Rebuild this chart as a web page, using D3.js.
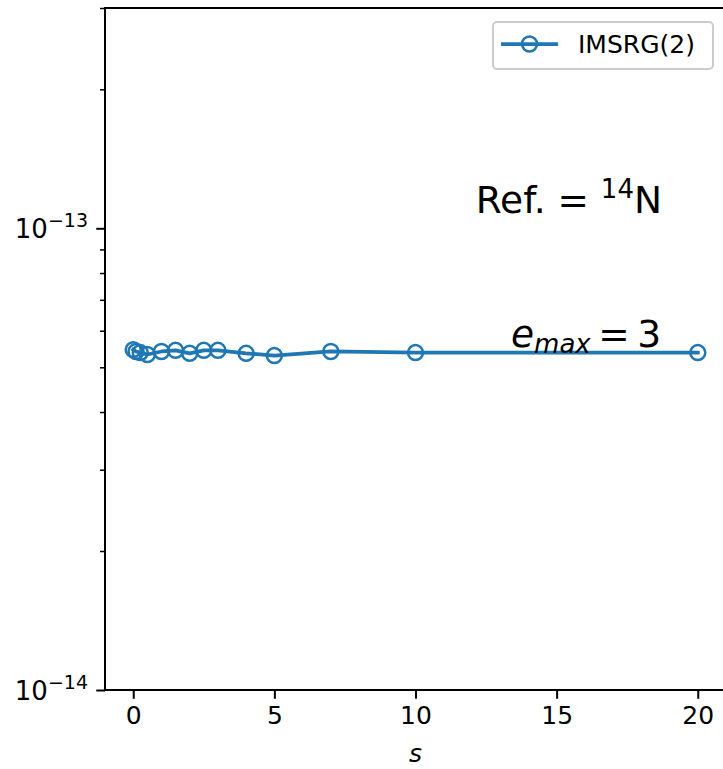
<!DOCTYPE html>
<html>
<head>
<meta charset="utf-8">
<script src="https://cdn.jsdelivr.net/npm/d3@7"></script>
<style>
  html, body { margin: 0; padding: 0; background: #fff; }
  svg { display: block; font-family: "DejaVu Sans", sans-serif; }
</style>
</head>
<body>
<svg id="chart" width="723" height="769"></svg>
<script>
// Flow parameter s and the IMSRG(2) value at each step
const sValues = [0, 0.1, 0.25, 0.5, 1, 1.5, 2, 2.5, 3, 4, 5, 7, 10, 20];
const imsrg2 = [5.46e-14, 5.41e-14, 5.38e-14, 5.33e-14, 5.41e-14, 5.44e-14, 5.36e-14,
                5.44e-14, 5.44e-14, 5.36e-14, 5.30e-14, 5.41e-14, 5.38e-14, 5.38e-14];
const seriesName = "IMSRG(2)";

// Axis ticks
const xTicks = [0, 5, 10, 15, 20];
const yMajorTicks = [1e-14, 1e-13];
const yMajorExp = ["\u221214", "\u221213"];
const yMinorTicks = [2e-14, 3e-14, 4e-14, 5e-14, 6e-14, 7e-14, 8e-14, 9e-14, 2e-13, 3e-13];

const color = "#1f77b4";
const svg = d3.select("#chart");

const plot = { left: 105, right: 726, top: 8, bottom: 690 };

const x = d3.scaleLinear().domain([-1, 21]).range([plot.left, plot.right]);
const y = d3.scaleLog().domain([1e-14, 3e-13]).range([plot.bottom, plot.top]);

// Clip for the data area
svg.append("defs").append("clipPath").attr("id", "clip")
  .append("rect").attr("x", plot.left).attr("y", plot.top)
  .attr("width", plot.right - plot.left).attr("height", plot.bottom - plot.top);

// Data line and open-circle markers
const line = d3.line().x((d, i) => x(sValues[i])).y(d => y(d));
const g = svg.append("g").attr("clip-path", "url(#clip)");
g.append("path").datum(imsrg2)
  .attr("d", line).attr("fill", "none")
  .attr("stroke", color).attr("stroke-width", 3.75)
  .attr("stroke-linejoin", "round").attr("stroke-linecap", "square");
g.selectAll("circle.pt").data(imsrg2).join("circle")
  .attr("class", "pt")
  .attr("cx", (d, i) => x(sValues[i])).attr("cy", d => y(d))
  .attr("r", 7.5).attr("fill", "none")
  .attr("stroke", color).attr("stroke-width", 2.5);

// X axis
const xAxis = svg.append("g").attr("transform", `translate(0,${plot.bottom})`)
  .call(d3.axisBottom(x).tickValues(xTicks).tickSize(8.75).tickPadding(7).tickSizeOuter(0).tickFormat(d3.format("d")));
xAxis.select(".domain").remove();
xAxis.selectAll(".tick line").attr("stroke", "#000").attr("stroke-width", 2);
xAxis.selectAll(".tick text").attr("font-size", 25).attr("fill", "#000")
  .attr("font-family", "DejaVu Sans");

// Y axis: major and minor ticks
const yAxis = svg.append("g").attr("transform", `translate(${plot.left},0)`)
  .call(d3.axisLeft(y).tickValues(yMajorTicks).tickSize(8.75).tickFormat(""));
yAxis.select(".domain").remove();
yAxis.selectAll(".tick line").attr("stroke", "#000").attr("stroke-width", 2);

const yMinor = svg.append("g").attr("transform", `translate(${plot.left},0)`)
  .call(d3.axisLeft(y).tickValues(yMinorTicks).tickSize(5).tickFormat(""));
yMinor.select(".domain").remove();
yMinor.selectAll(".tick line").attr("stroke", "#000").attr("stroke-width", 1.5);

// Y tick labels as 10 with superscript exponents
yMajorTicks.forEach((v, i) => {
  const t = svg.append("text")
    .attr("x", plot.left - 17).attr("y", y(v) + 9.5)
    .attr("text-anchor", "end").attr("font-size", 26).attr("fill", "#000");
  t.append("tspan").text("10");
  t.append("tspan").attr("font-size", 19).attr("dy", -11).text(yMajorExp[i]);
});

// Spines (left, top, bottom)
svg.append("path")
  .attr("d", `M${plot.right},${plot.top}H${plot.left}V${plot.bottom}H${plot.right}`)
  .attr("fill", "none").attr("stroke", "#000").attr("stroke-width", 2)
  .attr("stroke-linecap", "square");

// X axis label
svg.append("text").attr("x", (plot.left + plot.right) / 2).attr("y", 762)
  .attr("text-anchor", "middle").attr("font-size", 25).attr("font-style", "italic")
  .attr("fill", "#000").text("s");

// Annotations
const ref = svg.append("text").attr("x", 662).attr("y", 213)
  .attr("text-anchor", "end").attr("font-size", 37.5).attr("fill", "#000");
ref.append("tspan").text("Ref. = ");
ref.append("tspan").attr("font-size", 26).attr("dy", -15).text("14");
ref.append("tspan").attr("dy", 15).text("N");

const em = svg.append("text").attr("x", 661).attr("y", 347)
  .attr("text-anchor", "end").attr("font-size", 37.5).attr("fill", "#000");
em.append("tspan").attr("font-style", "italic").text("e");
em.append("tspan").attr("font-style", "italic").attr("font-size", 26).attr("dy", 6).text("max");
em.append("tspan").attr("dy", -6).text("\u2009=\u20093");

// Legend
const leg = svg.append("g");
leg.append("rect").attr("x", 493).attr("y", 22).attr("width", 220).attr("height", 47)
  .attr("rx", 4).attr("fill", "#fff").attr("fill-opacity", 0.8)
  .attr("stroke", "#ccc").attr("stroke-width", 2);
leg.append("line").attr("x1", 501).attr("x2", 558).attr("y1", 44).attr("y2", 44)
  .attr("stroke", color).attr("stroke-width", 3.75);
leg.append("circle").attr("cx", 529.5).attr("cy", 44).attr("r", 7.5)
  .attr("fill", "none").attr("stroke", color).attr("stroke-width", 2.5);
leg.append("text").attr("x", 578).attr("y", 53).attr("font-size", 25)
  .attr("fill", "#000").text(seriesName);
</script>
</body>
</html>
